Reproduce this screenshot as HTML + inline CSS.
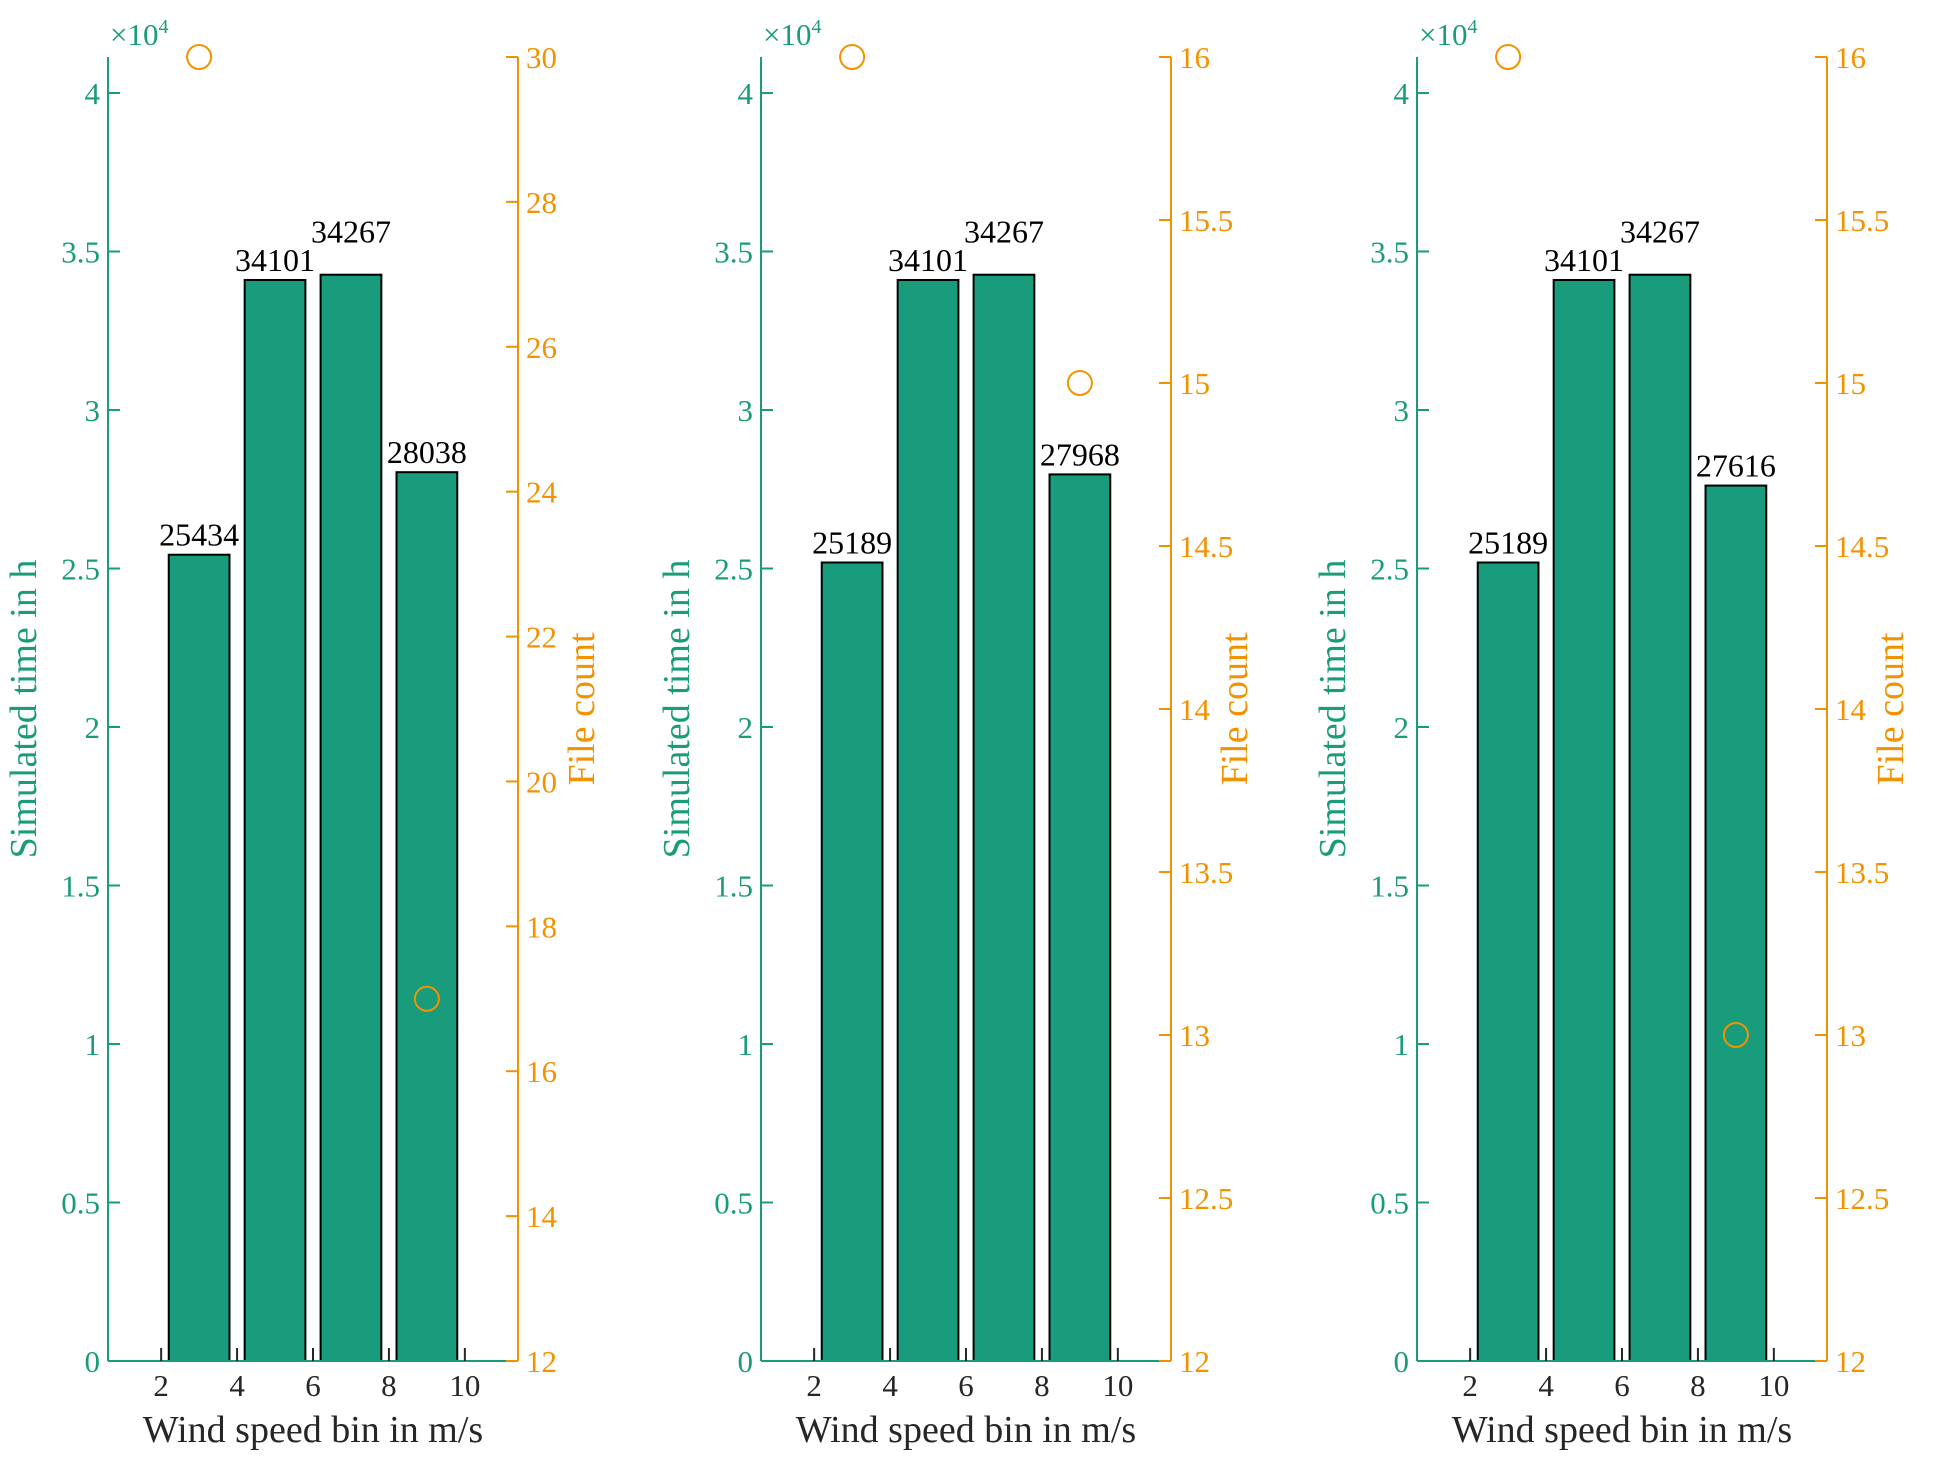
<!DOCTYPE html>
<html><head><meta charset="utf-8">
<style>
html,body{margin:0;padding:0;background:#fff;}
svg{display:block;font-family:"Liberation Serif",serif;}
</style></head>
<body>
<svg id="chart" width="1945" height="1467" viewBox="0 0 1945 1467" xmlns="http://www.w3.org/2000/svg"></svg>
<script>
// ---- data ----
const binCenters = [3, 5, 7, 9];
const simTime1 = [25434, 34101, 34267, 28038];
const simTime2 = [25189, 34101, 34267, 27968];
const simTime3 = [25189, 34101, 34267, 27616];
const fileX = [3, 9];
const fileCount1 = [30, 17];
const fileCount2 = [16, 15];
const fileCount3 = [16, 13];
const leftTicks = [0, 0.5, 1, 1.5, 2, 2.5, 3, 3.5, 4];
const leftTickLabels = ["0", "0.5", "1", "1.5", "2", "2.5", "3", "3.5", "4"];
const rightTicks1 = [12, 14, 16, 18, 20, 22, 24, 26, 28, 30];
const rightTicks23 = [12, 12.5, 13, 13.5, 14, 14.5, 15, 15.5, 16];
const xTicks = [2, 4, 6, 8, 10];

{
const TEAL = "#1a9c7b", ORANGE = "#f39200", BARFILL = "#199c7c";
const svgEl = document.getElementById('chart');
const NS = "http://www.w3.org/2000/svg";
function mk(tag, attrs, parent) {
  const e = document.createElementNS(NS, tag);
  for (const k in attrs) e.setAttribute(k, attrs[k]);
  (parent || svgEl).appendChild(e);
  return e;
}
const plotTop = 57, plotBottom = 1361, plotWidth = 410;
const xMin = 0.6, xMax = 11.4, yMax = 41135;

function panel(idx, left, times, fx, fc, rTicks, rMin, rMax) {
  const g = mk('g', {});
  
  
  const xs = v => left + (v - xMin) / (xMax - xMin) * plotWidth;
  const ys = v => plotBottom - v / yMax * (plotBottom - plotTop);
  const yr = v => plotBottom - (v - rMin) / (rMax - rMin) * (plotBottom - plotTop);
  const right = left + plotWidth;
  times.forEach((v, i) => {
    const x0 = xs(binCenters[i] - 0.8), x1 = xs(binCenters[i] + 0.8);
    const r = mk('rect', {x: x0, y: ys(v), width: x1 - x0, height: plotBottom - ys(v), fill: BARFILL, stroke: '#000', 'stroke-width': 2}, g);
    
    
    let off = 9;
    if (i > 0 && Math.abs(ys(v) - ys(times[i - 1])) < 22) off = 32;
    const t = mk('text', {x: (x0 + x1) / 2, y: ys(v) - off, 'text-anchor': 'middle', 'font-size': 32, fill: '#000'}, g);
    t.textContent = String(v);
    
    
  });
  const la = mk('line', {x1: left, y1: plotTop, x2: left, y2: plotBottom, stroke: TEAL, 'stroke-width': 2}, g);
  
  
  leftTicks.forEach((v, i) => {
    const y = ys(v * 1e4);
    mk('line', {x1: left, y1: y, x2: left + 12, y2: y, stroke: TEAL, 'stroke-width': 2}, g);
    const t = mk('text', {x: left - 8, y: y + 11, 'text-anchor': 'end', 'font-size': 31, fill: TEAL}, g);
    t.textContent = leftTickLabels[i];
    
    
  });
  const exp = mk('text', {x: left + 2, y: 45, 'font-size': 31, fill: TEAL}, g);
  
  
  const ts1 = mk('tspan', {}, exp);
  ts1.textContent = '×10';
  const ts2 = mk('tspan', {'font-size': 20, dy: -12}, exp);
  ts2.textContent = '4';
  const xa = mk('line', {x1: left, y1: plotBottom, x2: right, y2: plotBottom, stroke: TEAL, 'stroke-width': 2}, g);
  
  
  xTicks.forEach(v => {
    mk('line', {x1: xs(v), y1: plotBottom, x2: xs(v), y2: plotBottom - 13, stroke: '#262626', 'stroke-width': 2}, g);
    const t = mk('text', {x: xs(v), y: 1396, 'text-anchor': 'middle', 'font-size': 31, fill: '#262626'}, g);
    t.textContent = String(v);
    
    
  });
  const xl = mk('text', {x: left + plotWidth / 2, y: 1442, 'text-anchor': 'middle', 'font-size': 38, fill: '#262626'}, g);
  xl.textContent = 'Wind speed bin in m/s';
  
  
  const yl = mk('text', {x: 0, y: 0, 'text-anchor': 'middle', 'font-size': 38, fill: TEAL, transform: `translate(${left - 72},${(plotTop + plotBottom) / 2}) rotate(-90)`}, g);
  yl.textContent = 'Simulated time in h';
  
  
  const ra = mk('line', {x1: right, y1: plotTop, x2: right, y2: plotBottom, stroke: ORANGE, 'stroke-width': 2}, g);
  
  
  rTicks.forEach(v => {
    const y = yr(v);
    mk('line', {x1: right, y1: y, x2: right - 12, y2: y, stroke: ORANGE, 'stroke-width': 2}, g);
    const t = mk('text', {x: right + 8, y: y + 11, 'font-size': 31, fill: ORANGE}, g);
    t.textContent = String(v);
    
    
  });
  const rl = mk('text', {x: 0, y: 0, 'text-anchor': 'middle', 'font-size': 38, fill: ORANGE, transform: `translate(${right + 76},${(plotTop + plotBottom) / 2}) rotate(-90)`}, g);
  rl.textContent = 'File count';
  
  
  fc.forEach((v, i) => {
    const c = mk('circle', {cx: xs(fx[i]), cy: yr(v), r: 12, fill: 'none', stroke: ORANGE, 'stroke-width': 2}, g);
    
    
  });
}
panel(1, 108, simTime1, fileX, fileCount1, rightTicks1, 12, 30);
panel(2, 761, simTime2, fileX, fileCount2, rightTicks23, 12, 16);
panel(3, 1417, simTime3, fileX, fileCount3, rightTicks23, 12, 16);
}
</script>
</body></html>
